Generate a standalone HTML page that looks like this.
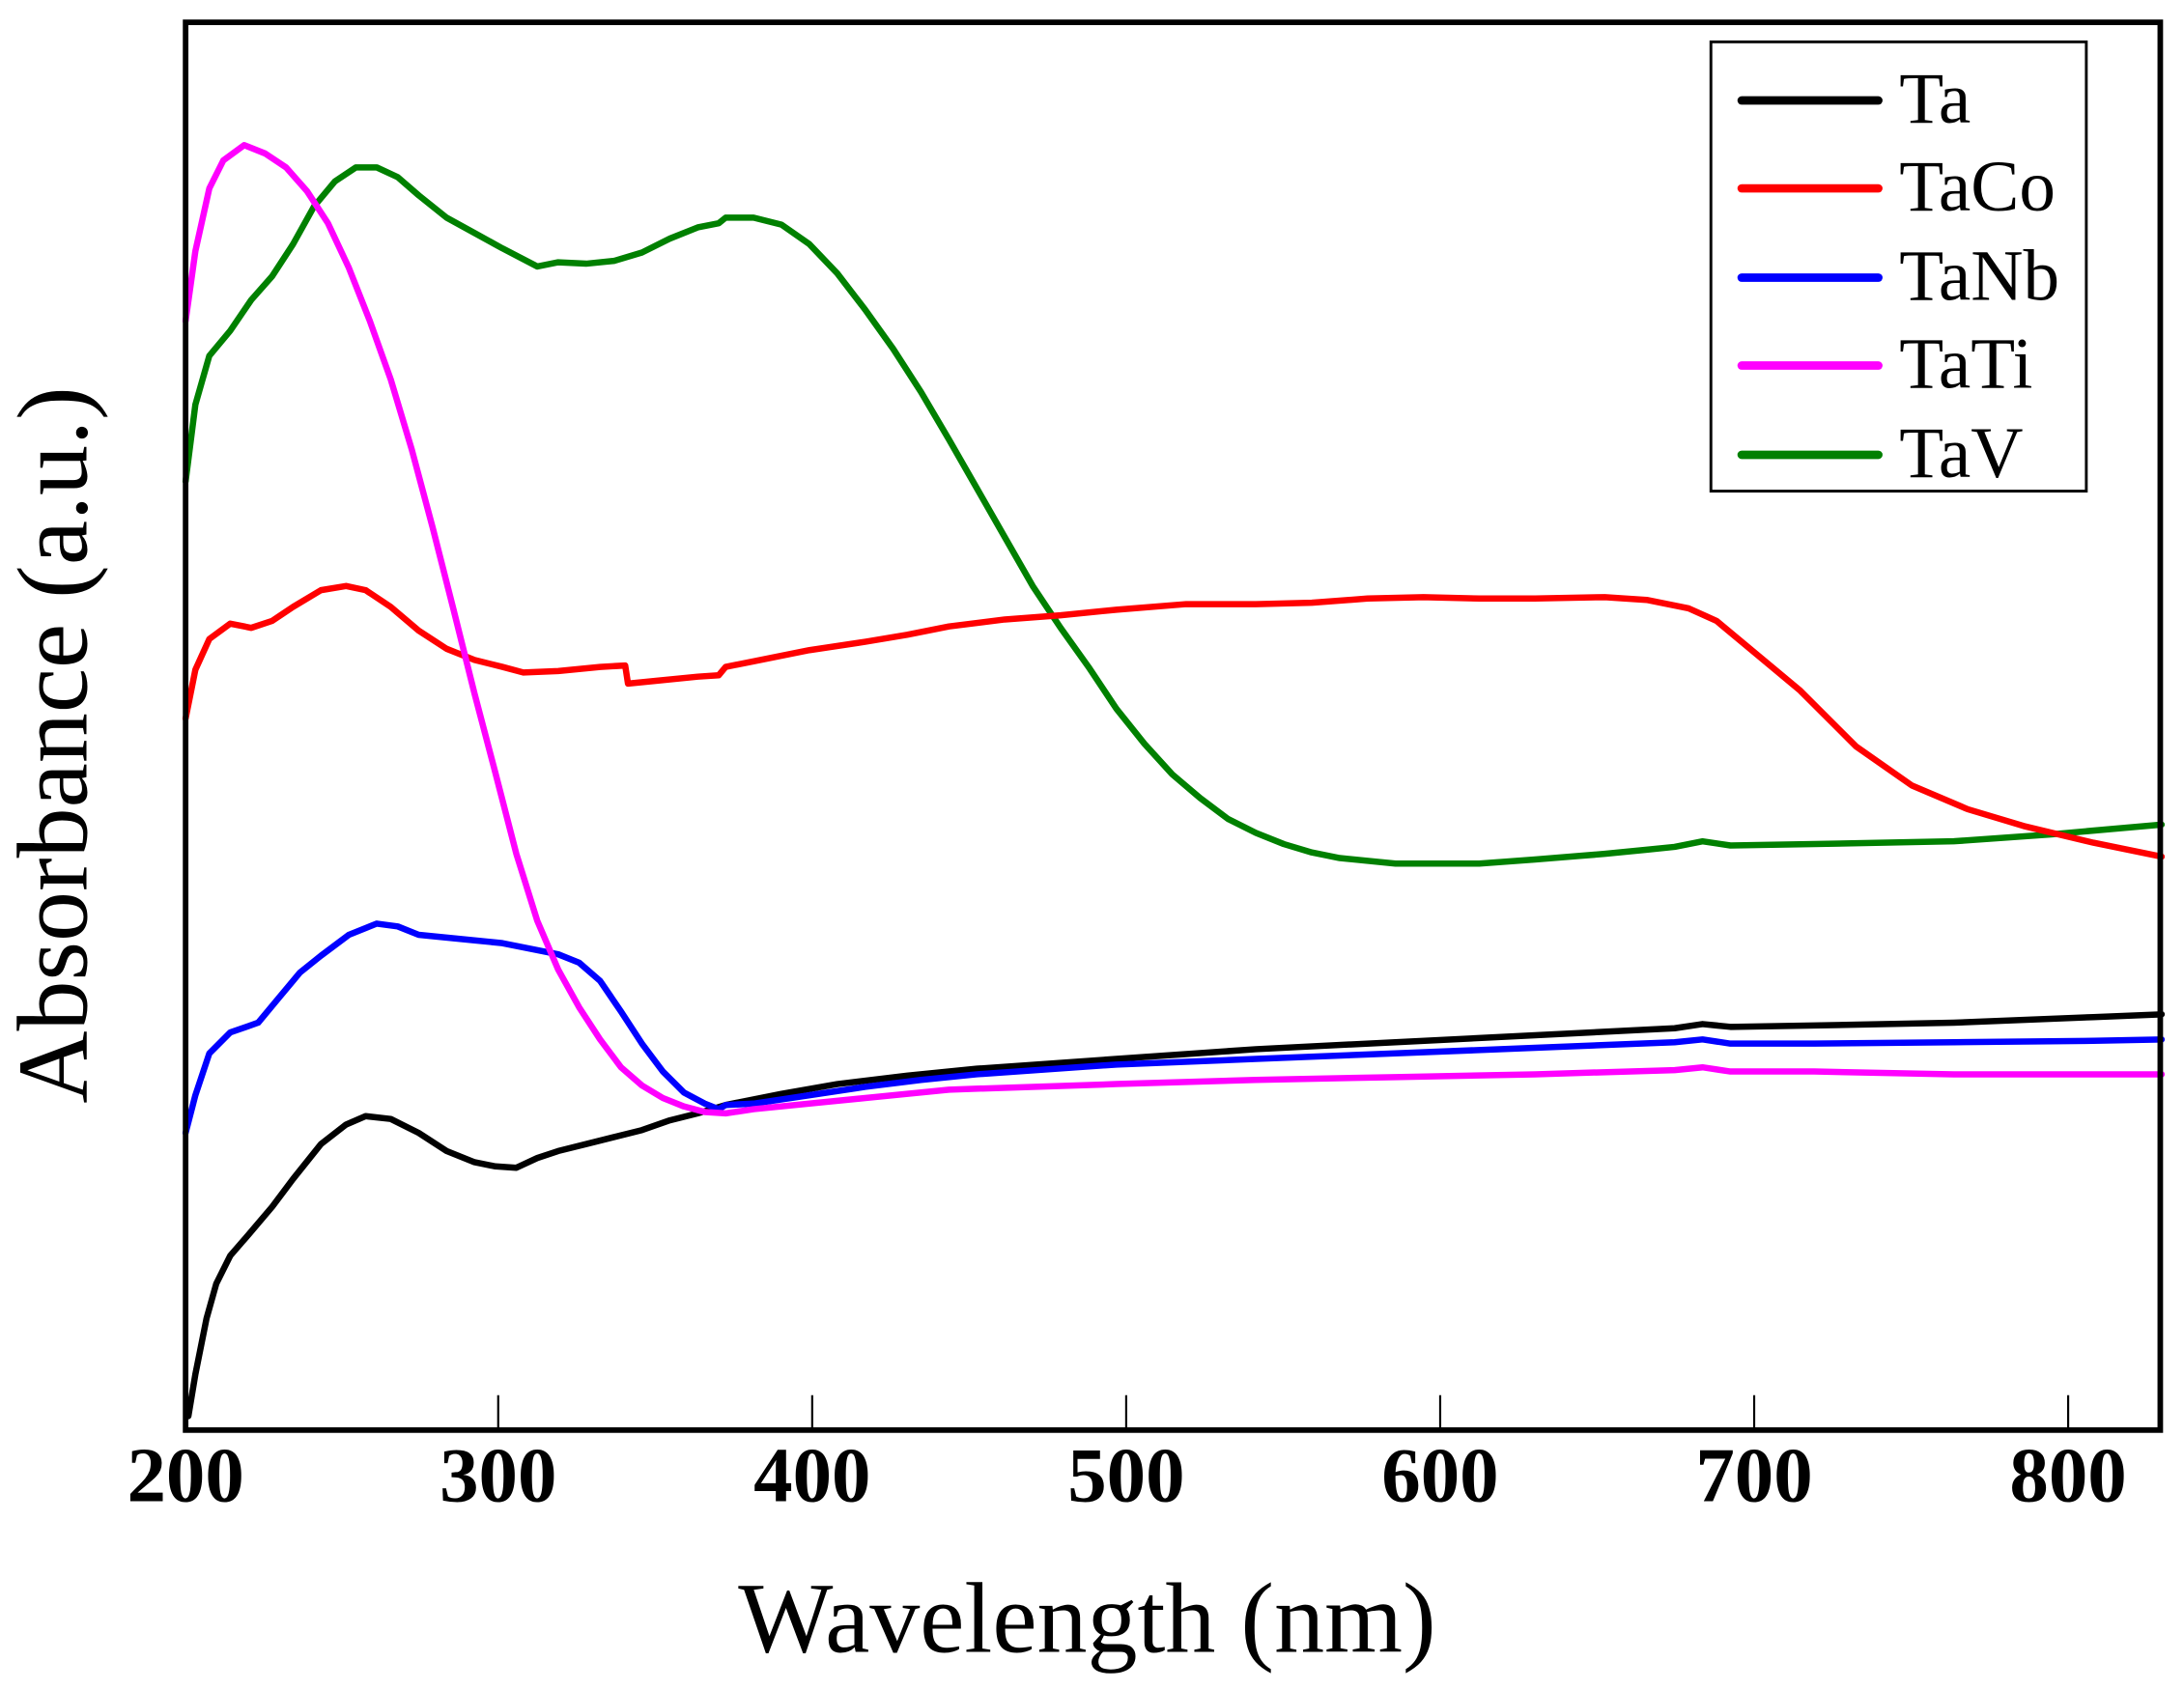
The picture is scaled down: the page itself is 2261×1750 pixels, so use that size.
<!DOCTYPE html>
<html><head><meta charset="utf-8"><style>html,body{margin:0;padding:0;background:#fff}svg{display:block}</style></head>
<body>
<svg width="2261" height="1750" viewBox="0 0 1565 1211.3" xmlns="http://www.w3.org/2000/svg" font-family="Liberation Serif, serif">
<rect x="0" y="0" width="1565" height="1211.3" fill="#fff"/>
<g fill="none" stroke-width="4.5" stroke-linejoin="round" stroke-linecap="round">
<polyline stroke="#008000" points="133,345 140,290 150,255 165,237 180,215 195,198 210,175 225,148 240,130 255,120 270,120 285,127 300,140 320,156 340,167 360,178 385,191 400,188 420,189 440,187 460,181 480,171 500,163 515,160 520,156 540,156 560,161 580,175 600,196 620,222 640,250 660,281 680,315 700,350 720,385 740,420 760,450 780,478 800,508 820,533 840,555 860,572 880,587 900,597 920,605 940,611 960,615 1000,619 1060,619 1100,616 1150,612 1180,609 1200,607 1220,603 1240,606 1300,605 1400,603 1470,598 1549,591"/>
<polyline stroke="#ff0000" points="133,515 140,480 150,458 165,447 180,450 195,445 210,435 230,423 248,420 262,423 280,435 300,452 320,465 340,473 360,478 375,482 400,481 430,478 448,477 450,490 470,488 500,485 515,484 520,478 540,474 580,466 620,460 650,455 680,449 720,444 760,441 800,437 850,433 900,433 940,432 980,429 1020,428 1060,429 1100,429 1150,428 1180,430 1210,436 1230,445 1260,470 1290,495 1330,535 1370,563 1410,580 1450,592 1500,604 1549,614"/>
<polyline stroke="#000000" points="135,1015 140,985 148,945 155,920 165,900 178,885 195,865 210,845 230,820 248,806 262,800 280,802 300,812 320,825 340,833 355,836 370,837 385,830 400,825 420,820 440,815 460,810 480,803 500,798 520,792 560,784 600,777 650,771 700,766 800,759 900,752 1000,747 1100,742 1200,737 1220,734 1240,736 1300,735 1400,733 1500,729 1549,727"/>
<polyline stroke="#0000ff" points="133,812 140,785 150,755 165,740 185,733 200,715 215,697 230,685 250,670 270,662 285,664 300,670 320,672 340,674 360,676 380,680 400,684 415,690 430,703 445,725 460,748 475,768 490,783 505,791 515,795 520,792 540,791 580,785 620,779 660,774 700,770 800,763 900,759 1000,755 1100,751 1200,747 1220,745 1240,748 1300,748 1400,747 1500,746 1549,745"/>
<polyline stroke="#ff00ff" points="133,230 140,180 150,135 160,115 175,104 190,110 205,120 220,137 235,160 250,192 265,230 280,272 295,322 310,378 325,437 340,497 355,554 370,612 385,660 400,695 415,722 430,745 445,765 460,778 475,787 490,793 505,797 520,798 540,795 580,791 620,787 680,781 800,777 900,774 1000,772 1100,770 1200,767 1220,765 1240,768 1300,768 1400,770 1549,770"/>
</g>
<g stroke="#000" stroke-width="1.5">
<line x1="357" y1="1025" x2="357" y2="1000"/><line x1="582" y1="1025" x2="582" y2="1000"/><line x1="807" y1="1025" x2="807" y2="1000"/><line x1="1032" y1="1025" x2="1032" y2="1000"/><line x1="1257" y1="1025" x2="1257" y2="1000"/><line x1="1482" y1="1025" x2="1482" y2="1000"/>
</g>
<rect x="133" y="16" width="1415" height="1009" fill="none" stroke="#000" stroke-width="4"/>
<g font-size="56" font-weight="bold" text-anchor="middle" fill="#000">
<text x="133" y="1076">200</text><text x="357" y="1076">300</text><text x="582" y="1076">400</text><text x="807" y="1076">500</text><text x="1032" y="1076">600</text><text x="1257" y="1076">700</text><text x="1482" y="1076">800</text>
</g>
<text x="779" y="1184" font-size="72" text-anchor="middle">Wavelength (nm)</text>
<text transform="translate(62,534) rotate(-90)" font-size="72" text-anchor="middle">Absorbance (a.u.)</text>
<rect x="1226" y="30" width="269" height="322" fill="#fff" stroke="#000" stroke-width="2"/>
<g stroke-width="6" stroke-linecap="round">
<line x1="1248" y1="72" x2="1346" y2="72" stroke="#000"/>
<line x1="1248" y1="135" x2="1346" y2="135" stroke="#ff0000"/>
<line x1="1248" y1="199" x2="1346" y2="199" stroke="#0000ff"/>
<line x1="1248" y1="262" x2="1346" y2="262" stroke="#ff00ff"/>
<line x1="1248" y1="326" x2="1346" y2="326" stroke="#008000"/>
</g>
<g font-size="52" fill="#000">
<text x="1361" y="88">Ta</text><text x="1361" y="151">TaCo</text><text x="1361" y="215">TaNb</text><text x="1361" y="278">TaTi</text><text x="1361" y="342">TaV</text>
</g>
</svg>
</body></html>
